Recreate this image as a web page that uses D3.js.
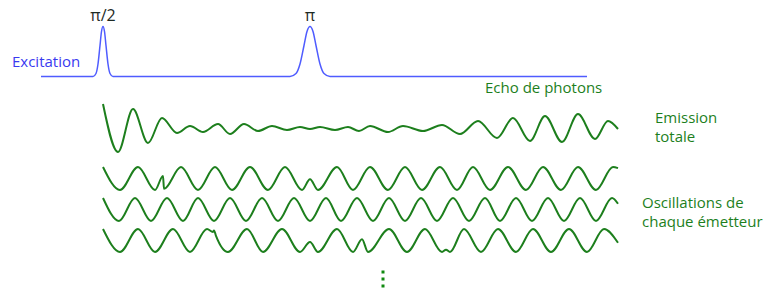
<!DOCTYPE html>
<html>
<head>
<meta charset="utf-8">
<script src="https://cdn.jsdelivr.net/npm/d3@7"></script>
<style>
  body { margin: 0; background: #fff; }
  text { font-family: "Open Sans", sans-serif; }
</style>
</head>
<body>
<svg id="chart" width="768" height="289"></svg>
<script>
// temps : 0 = impulsion pi/2, 207 = impulsion pi
const excitation = [[-62,0],[-10,0],[-7,0.06],[-5,0.25],[-3,0.62],[-1.5,0.9],[0,1],[1.5,0.9],[3,0.62],[5,0.25],[7,0.06],[10,0],
  [187,0],[193,0.06],[197,0.25],[201,0.62],[204,0.9],[207,1],[210,0.9],[213,0.62],[217,0.25],[221,0.06],[227,0],[484,0]];
const pulseLabels = [{ t: 0, label: "π/2" }, { t: 207, label: "π" }];

// emission totale (extrema)
const emission = [[0,24],[15,-24],[30,19],[45,-15],[59,10],[74,-5],[87,2],[100,-4],[115,4],[127,-6],[141,4],[155,-3],
  [169,2],[184,-2],[197,1],[207,-1],[217,1],[232,-2],[245,1],[256,-3],[267,2],[285,-4],[300,2],[320,-3],[339,3],
  [357,-6],[375,7],[394,-10],[410,10],[427,-13],[442,12],[459,-14],[475,14],[492,-11],[505,7],[515,-1]];

// oscillations de chaque emetteur (extrema normalises)
const emitter1 = [[0,1],[17,-1],[35,1],[52,-1],[60,0.22],[61,-0.9],[78,1],[95,-1],[112,1],[129,-1],[147,1],[165,-1],
  [182,1],[199,-1],[207,-0.07],[215,-1],[234,1],[250,-1],[267,1],[285,-1],[302,1],[319,-1],[337,1],[354,-1],
  [370,1],[387,-1],[405,1],[423,-1],[440,1],[458,-1],[475,1],[493,-1],[510,1],[515,0.9]];
const emitter2 = [[0,1],[16,-1],[32,1],[48,-1],[64,1],[80,-1],[95,1],[111,-1],[127,1],[143,-1],[159,1],[175,-1],
  [191,1],[207,-1],[223,1],[238,-1],[254,1],[270,-1],[286,1],[302,-1],[318,1],[334,-1],[350,1],[366,-1],
  [382,1],[397,-1],[413,1],[429,-1],[445,1],[461,-1],[477,1],[493,-1],[509,1],[515,0.5]];
const emitter3 = [[0,1],[17,-1],[35,1],[52,-1],[70,1],[87,-1],[104,1],[110,0.75],[111,0.88],[113,0.4],[125,-1],
  [144,1],[160,-1],[179,1],[197,-1],[207,-0.13],[215,-1],[234,1],[250,-1],[259,0.1],[265,-1],[286,1],[304,-1],
  [322,1],[339,-1],[343,-0.8],[347,-1],[361,1],[378,-1],[395,1],[413,-1],[430,1],[448,-1],[466,1],[484,-1],
  [501,1],[515,-0.2]];
const emitters = [emitter1, emitter2, emitter3];

// "..." vertical : autres emetteurs
const moreDots = [0, 1, 2];

const sideLabels = [
  { lines: ["Emission", "totale"], x: 655, y: 123 },
  { lines: ["Oscillations de", "chaque émetteur"], x: 642, y: 208 }
];

const svg = d3.select("#chart");
const BLUE = "#4f5cff";
const GREEN = "#1d7f1d";

const x = d3.scaleLinear().domain([-62, 515]).range([41, 618]);

// ligne d'excitation
const yExc = d3.scaleLinear().domain([0, 1]).range([76.5, 26.5]);
svg.append("path")
    .datum(excitation)
    .attr("fill", "none")
    .attr("stroke", BLUE)
    .attr("stroke-width", 1.5)
    .attr("d", d3.line().x(d => x(d[0])).y(d => yExc(d[1])).curve(d3.curveMonotoneX));

svg.selectAll("text.pulse")
    .data(pulseLabels)
    .enter().append("text")
    .attr("class", "pulse")
    .attr("x", d => x(d.t))
    .attr("y", 21)
    .attr("text-anchor", "middle")
    .attr("font-size", 16)
    .attr("fill", "#1e2a24")
    .text(d => d.label);

svg.append("text")
    .attr("x", 12).attr("y", 66.5)
    .attr("font-size", 15)
    .attr("fill", "#3a3af0")
    .text("Excitation");

svg.append("text")
    .attr("x", 485).attr("y", 93)
    .attr("font-size", 15)
    .attr("fill", GREEN)
    .text("Echo de photons");

// emission totale
const yEm = d3.scaleLinear().domain([-25, 25]).range([153, 103]);
svg.append("path")
    .datum(emission)
    .attr("fill", "none")
    .attr("stroke", GREEN)
    .attr("stroke-width", 2)
    .attr("d", d3.line().x(d => x(d[0])).y(d => yEm(d[1])).curve(d3.curveMonotoneX));

// emetteurs
const rowCenter = d3.scaleLinear().domain([0, 2]).range([178.5, 240.5]);
emitters.forEach((pts, i) => {
    const yRow = d3.scaleLinear().domain([-1, 1]).range([rowCenter(i) + 11.5, rowCenter(i) - 11.5]);
    svg.append("path")
        .datum(pts)
        .attr("fill", "none")
        .attr("stroke", GREEN)
        .attr("stroke-width", 2)
        .attr("d", d3.line().x(d => x(d[0])).y(d => yRow(d[1])).curve(d3.curveMonotoneX));
});

// labels a droite
sideLabels.forEach(l => {
    const t = svg.append("text")
        .attr("x", l.x).attr("y", l.y)
        .attr("font-size", 15)
        .attr("fill", GREEN);
    l.lines.forEach((s, i) => {
        t.append("tspan").attr("x", l.x).attr("dy", i === 0 ? 0 : 19).text(s);
    });
});

// points de suspension
const yDot = d3.scaleLinear().domain([0, 2]).range([272, 286]);
svg.selectAll("rect.dot")
    .data(moreDots)
    .enter().append("rect")
    .attr("class", "dot")
    .attr("x", 381.5)
    .attr("y", d => yDot(d) - 1.5)
    .attr("width", 3)
    .attr("height", 3)
    .attr("fill", "#108a10");
</script>
</body>
</html>
